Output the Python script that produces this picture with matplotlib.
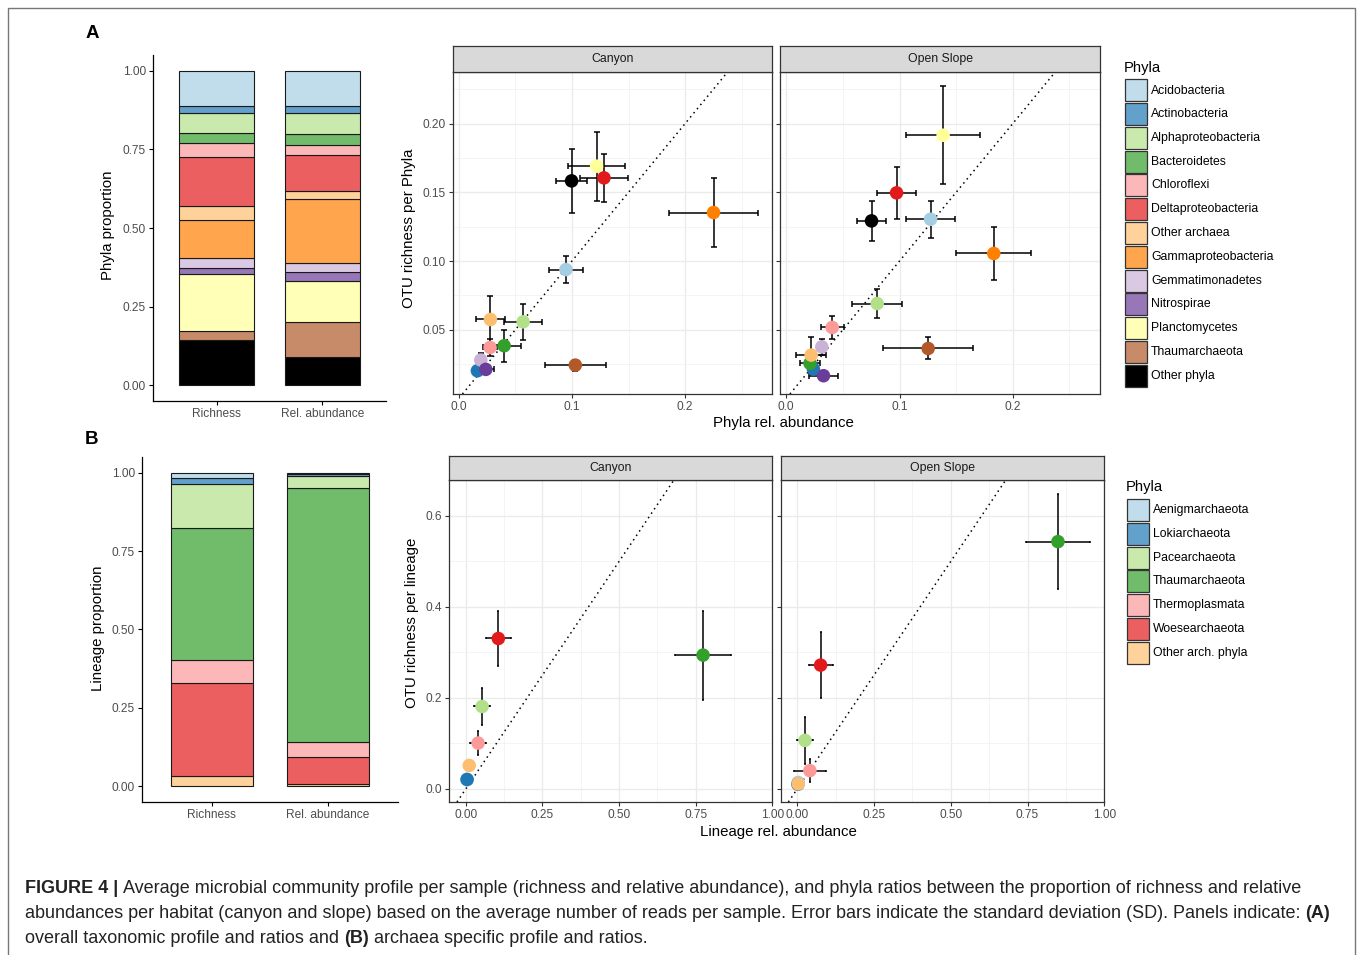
import matplotlib
matplotlib.use('Agg')
import matplotlib.pyplot as plt
from matplotlib.patches import Rectangle
from matplotlib.colors import to_rgba

plt.rcParams['font.family'] = ['Liberation Sans', 'DejaVu Sans']

W, H = 1357, 955

# ---------------- panel A data ----------------
phyla_a = ['Acidobacteria', 'Actinobacteria', 'Alphaproteobacteria', 'Bacteroidetes',
           'Chloroflexi', 'Deltaproteobacteria', 'Other archaea', 'Gammaproteobacteria',
           'Gemmatimonadetes', 'Nitrospirae', 'Planctomycetes', 'Thaumarchaeota', 'Other phyla']
colors_a = ['#A6CEE3', '#1F78B4', '#B2DF8A', '#33A02C', '#FB9A99', '#E31A1C', '#FDBF6F',
            '#FF7F00', '#CAB2D6', '#6A3D9A', '#FFFF99', '#B15928', '#000000']
bars = ['Richness', 'Rel. abundance']
rich_a = [0.112, 0.023, 0.063, 0.033, 0.044, 0.155, 0.044, 0.120, 0.032, 0.020, 0.180, 0.029, 0.145]
abund_a = [0.111, 0.024, 0.067, 0.034, 0.033, 0.114, 0.024, 0.204, 0.028, 0.029, 0.130, 0.113, 0.089]

# canyon, panel A (x = rel. abundance, y = OTU richness)
can_a_x = [0.0947, 0.0165, 0.0569, 0.0401, 0.0277, 0.1283, 0.028, 0.2251, 0.0195, 0.0239, 0.1218, 0.103, 0.0997]
can_a_y = [0.0938, 0.0202, 0.0558, 0.0384, 0.0372, 0.1605, 0.0575, 0.1353, 0.028, 0.0212, 0.169, 0.0243, 0.1583]
can_a_xe = [0.0153, 0.003, 0.017, 0.015, 0.006, 0.0214, 0.013, 0.039, 0.003, 0.0073, 0.0255, 0.027, 0.0135]
can_a_ye = [0.0097, 0.003, 0.0132, 0.0117, 0.006, 0.0176, 0.017, 0.025, 0.005, 0.003, 0.025, 0.004, 0.023]

# open slope, panel A
slo_a_x = [0.1274, 0.024, 0.0803, 0.021, 0.0406, 0.0974, 0.022, 0.1832, 0.0314, 0.0329, 0.1385, 0.1253, 0.0753]
slo_a_y = [0.1304, 0.0214, 0.0691, 0.0256, 0.0517, 0.1496, 0.0316, 0.1055, 0.0376, 0.0166, 0.1915, 0.0364, 0.1292]
slo_a_xe = [0.0218, 0.004, 0.022, 0.009, 0.010, 0.017, 0.013, 0.033, 0.004, 0.013, 0.0325, 0.0395, 0.0125]
slo_a_ye = [0.0135, 0.003, 0.0105, 0.004, 0.0082, 0.019, 0.013, 0.019, 0.006, 0.003, 0.0355, 0.008, 0.0147]

# ---------------- panel B data ----------------
phyla_b = ['Aenigmarchaeota', 'Lokiarchaeota', 'Pacearchaeota', 'Thaumarchaeota',
           'Thermoplasmata', 'Woesearchaeota', 'Other arch. phyla']
colors_b = ['#A6CEE3', '#1F78B4', '#B2DF8A', '#33A02C', '#FB9A99', '#E31A1C', '#FDBF6F']
rich_b = [0.018, 0.017, 0.141, 0.423, 0.071, 0.299, 0.031]
abund_b = [0.005, 0.005, 0.038, 0.813, 0.045, 0.088, 0.006]

can_b_x = [0.004, 0.004, 0.053, 0.774, 0.040, 0.106, 0.011]
can_b_y = [0.020, 0.0206, 0.181, 0.294, 0.1006, 0.3305, 0.0514]
can_b_xe = [0.002, 0.003, 0.025, 0.090, 0.025, 0.040, 0.004]
can_b_ye = [0.004, 0.004, 0.041, 0.098, 0.026, 0.060, 0.012]

slo_b_x = [0.003, 0.002, 0.025, 0.849, 0.041, 0.076, 0.003]
slo_b_y = [0.014, 0.010, 0.1065, 0.5435, 0.040, 0.272, 0.011]
slo_b_xe = [0.003, 0.002, 0.025, 0.104, 0.052, 0.039, 0.004]
slo_b_ye = [0.004, 0.003, 0.052, 0.104, 0.025, 0.073, 0.006]

TICK = '#4D4D4D'
FS_TICK = 8.6


def px(x0, y0, x1, y1):
    return [x0 / W, 1 - y1 / H, (x1 - x0) / W, (y1 - y0) / H]


def soft(c):
    if c == '#000000':
        return c
    r, g, b, _ = to_rgba(c)
    return (0.7 * r + 0.3, 0.7 * g + 0.3, 0.7 * b + 0.3)


fig = plt.figure(figsize=(W / 100, H / 100), dpi=100)

# overlay in pixel coordinates for titles, legends, caption
ov = fig.add_axes([0, 0, 1, 1])
ov.set_xlim(0, W)
ov.set_ylim(H, 0)
ov.axis('off')
ov.add_patch(Rectangle((8, 8), 1347, 980, fill=False, edgecolor='#777777', lw=1, clip_on=False))


def stacked(rect, segs_r, segs_a, cols):
    ax = fig.add_axes(rect)
    bot_r, bot_a = 0.0, 0.0
    for sr, sa, c in zip(segs_r[::-1], segs_a[::-1], cols[::-1]):
        ax.bar([1, 2], [sr, sa], bottom=[bot_r, bot_a], width=0.7, color=soft(c),
               edgecolor='#1a1a1a', lw=0.8)
        bot_r += sr
        bot_a += sa
    ax.set_xlim(0.4, 2.6)
    ax.set_ylim(-0.05, 1.05)
    ax.set_xticks([1, 2])
    ax.set_xticklabels(bars)
    ax.set_yticks([0, 0.25, 0.5, 0.75, 1.0])
    ax.set_yticklabels(['0.00', '0.25', '0.50', '0.75', '1.00'])
    for s in ['top', 'right']:
        ax.spines[s].set_visible(False)
    for s in ['left', 'bottom']:
        ax.spines[s].set_linewidth(0.9)
    ax.tick_params(length=3, width=0.8, labelsize=FS_TICK, labelcolor=TICK, pad=2)
    return ax


def facet(rect, strip_h, label, xs, ys, xe, ye, cols, xlim, ylim,
          xt, xtl, xmin, yt, ytl, ymin, show_y, cap):
    ax = fig.add_axes(rect)
    ax.set_xlim(*xlim)
    ax.set_ylim(*ylim)
    ax.set_xticks(xt)
    ax.set_xticklabels(xtl)
    ax.set_xticks(xmin, minor=True)
    ax.set_yticks(yt)
    ax.set_yticks(ymin, minor=True)
    if show_y:
        ax.set_yticklabels(ytl)
    else:
        ax.set_yticklabels([])
        ax.tick_params(axis='y', which='major', length=0)
    ax.grid(True, which='major', color='#EBEBEB', lw=1.0)
    ax.grid(True, which='minor', color='#F2F2F2', lw=0.6)
    ax.set_axisbelow(True)
    for s in ax.spines.values():
        s.set_color('#333333')
        s.set_linewidth(0.9)
    ax.tick_params(which='major', length=3, width=0.8, color='#333333',
                   labelsize=FS_TICK, labelcolor=TICK, pad=2)
    ax.tick_params(which='minor', length=0)
    ax.axline((0, 0), slope=1, color='black', ls=(0, (1, 2.5)), lw=1.1, zorder=2)
    ax.errorbar(xs, ys, xerr=xe, yerr=ye, fmt='none', ecolor='black',
                elinewidth=1.1, capsize=cap, capthick=1.1, zorder=3)
    ax.scatter(xs, ys, s=95, c=cols, edgecolors='none', zorder=4)
    # strip
    x0, y0, w, h = rect
    st = fig.add_axes([x0, y0 + h, w, strip_h / H])
    st.set_facecolor('#D9D9D9')
    st.set_xticks([])
    st.set_yticks([])
    for s in st.spines.values():
        s.set_color('#333333')
        s.set_linewidth(0.9)
    st.text(0.5, 0.5, label, ha='center', va='center', fontsize=8.8, color='#1A1A1A',
            transform=st.transAxes)
    return ax


# ---- panel A ----
stacked(px(153, 55, 386, 401), rich_a, abund_a, colors_a)
xa = dict(xlim=(-0.0055, 0.277), ylim=(0.0033, 0.2375),
          xt=[0, 0.1, 0.2], xtl=['0.0', '0.1', '0.2'], xmin=[0.05, 0.15, 0.25],
          yt=[0.05, 0.10, 0.15, 0.20], ytl=['0.05', '0.10', '0.15', '0.20'],
          ymin=[0.025, 0.075, 0.125, 0.175, 0.225], cap=2.2)
facet(px(452.5, 72, 772.3, 394), 26, 'Canyon', can_a_x, can_a_y, can_a_xe, can_a_ye,
      colors_a, show_y=True, **xa)
facet(px(780, 72, 1100, 394), 26, 'Open Slope', slo_a_x, slo_a_y, slo_a_xe, slo_a_ye,
      colors_a, show_y=False, **xa)

# ---- panel B ----
stacked(px(142, 457, 398, 801.7), rich_b, abund_b, colors_b)
xb = dict(xlim=(-0.054, 1.0), ylim=(-0.029, 0.679),
          xt=[0, 0.25, 0.5, 0.75, 1.0], xtl=['0.00', '0.25', '0.50', '0.75', '1.00'],
          xmin=[0.125, 0.375, 0.625, 0.875],
          yt=[0, 0.2, 0.4, 0.6], ytl=['0.0', '0.2', '0.4', '0.6'], ymin=[0.1, 0.3, 0.5],
          cap=1.0)
facet(px(449.3, 480, 772.3, 802), 24, 'Canyon', can_b_x, can_b_y, can_b_xe, can_b_ye,
      colors_b, show_y=True, **xb)
facet(px(780.7, 480, 1104.3, 802), 24, 'Open Slope', slo_b_x, slo_b_y, slo_b_xe, slo_b_ye,
      colors_b, show_y=False, **xb)

# ---- titles & axis labels ----
ov.text(92, 34, 'A', fontsize=13.5, fontweight='bold', ha='center', va='center')
ov.text(92, 439, 'B', fontsize=13.5, fontweight='bold', ha='center', va='center')
ov.text(108, 225, 'Phyla proportion', rotation=90, fontsize=10.8, ha='center', va='center')
ov.text(98, 628, 'Lineage proportion', rotation=90, fontsize=10.8, ha='center', va='center')
ov.text(409, 228, 'OTU richness per Phyla', rotation=90, fontsize=10.8, ha='center', va='center')
ov.text(412, 623, 'OTU richness per lineage', rotation=90, fontsize=10.8, ha='center', va='center')
ov.text(783, 423, 'Phyla rel. abundance', fontsize=10.8, ha='center', va='center')
ov.text(778, 832, 'Lineage rel. abundance', fontsize=10.8, ha='center', va='center')


def legend(x, y_title, y_first, names, cols):
    ov.text(x - 1, y_title, 'Phyla', fontsize=10.6, ha='left', va='center')
    for i, (n, c) in enumerate(zip(names, cols)):
        yc = y_first + i * 23.75
        ov.add_patch(Rectangle((x, yc - 11), 21.5, 22, facecolor=soft(c),
                               edgecolor='#333333', lw=0.9))
        ov.text(x + 26, yc, n, fontsize=8.8, ha='left', va='center')


legend(1125, 68, 90.5, phyla_a, colors_a)
legend(1127, 487, 510, phyla_b, colors_b)

# ---- caption ----
cap_lines = [
    [('FIGURE 4 |', True), ('Average microbial community profile per sample (richness and relative '
                             'abundance), and phyla ratios between the proportion of richness and relative', False)],
    [('abundances per habitat (canyon and slope) based on the average number of reads per sample. '
      'Error bars indicate the standard deviation (SD). Panels indicate:', False), ('(A)', True)],
    [('overall taxonomic profile and ratios and', False), ('(B)', True),
     ('archaea specific profile and ratios.', False)],
]
cap_y = [888, 913, 938]
cap_fam = ['Liberation Sans Narrow', 'Liberation Sans', 'DejaVu Sans']
cap_fs = 13.0

fig.canvas.draw()
rend = fig.canvas.get_renderer()


def width(s, bold):
    t = ov.text(0, 0, s, fontsize=cap_fs, family=cap_fam, fontweight='bold' if bold else 'normal')
    w = t.get_window_extent(rend).width
    t.remove()
    return w


space = width('a a', False) - width('aa', False)
for pieces, yy in zip(cap_lines, cap_y):
    xx = 25
    for s, b in pieces:
        ov.text(xx, yy, s, fontsize=cap_fs, family=cap_fam, color='#222222',
                fontweight='bold' if b else 'normal', ha='left', va='center')
        xx += width(s, b) + space

fig.savefig('out.png', dpi=100)
